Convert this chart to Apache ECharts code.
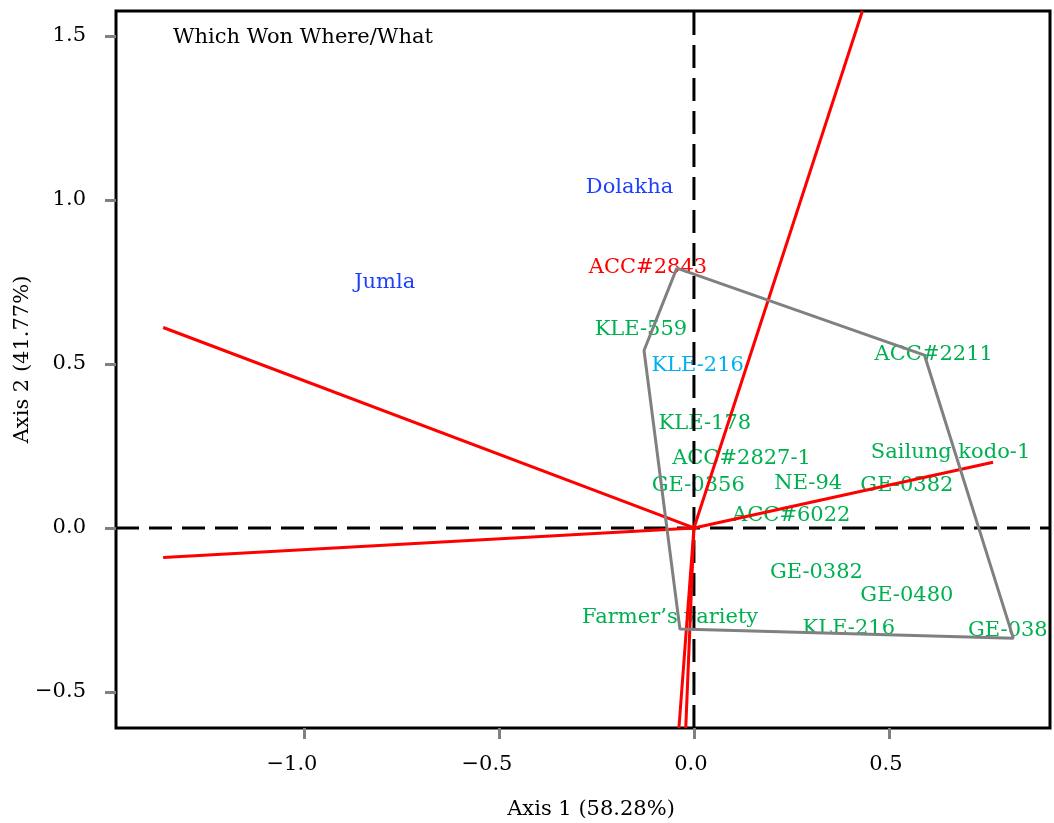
<!DOCTYPE html>
<html>
<head>
<meta charset="utf-8">
<script src="https://cdn.jsdelivr.net/npm/echarts@6/dist/echarts.min.js"></script>
<style>html,body{margin:0;padding:0;background:#fff}#c{width:1054px;height:823px}</style>
</head>
<body>
<div id="c"></div>
<script>
// ---- data ----
const xRange = [-1.482, 0.913];
const yRange = [-0.61, 1.576];
const xTicks = [-1.0, -0.5, 0.0, 0.5];
const yTicks = [-0.5, 0.0, 0.5, 1.0, 1.5];
const xName = 'Axis 1 (58.28%)';
const yName = 'Axis 2 (41.77%)';
const titleText = 'Which Won Where/What';

// rays from the origin (end points)
const rayEnds = [
  [-1.361, 0.611],
  [-1.361, -0.0905],
  [0.432, 1.576],
  [0.767, 0.200],
  [-0.0385, -0.61],
  [-0.021, -0.61]
];

// convex hull of genotypes
const hull = [
  [-0.044, 0.792],
  [0.591, 0.527],
  [0.819, -0.336],
  [-0.036, -0.308],
  [-0.128, 0.541],
  [-0.044, 0.792]
];

// environment labels
const envNames = ['Dolakha', 'Jumla'];
const envPos = [[-0.165, 1.039], [-0.793, 0.748]];

// genotype labels
const genoNames = ['ACC#2843', 'KLE-559', 'KLE-216', 'ACC#2211', 'KLE-178', 'ACC#2827-1',
  'Sailung kodo-1', 'GE-0356', 'NE-94', 'GE-0382', 'ACC#6022', 'GE-0382', 'GE-0480',
  'Farmer\u2019s variety', 'KLE-216', 'GE-038'];
const genoPos = [[-0.118, 0.795], [-0.136, 0.606], [0.0095, 0.495], [0.615, 0.530],
  [0.028, 0.319], [0.122, 0.210], [0.658, 0.231], [0.011, 0.129], [0.293, 0.136],
  [0.546, 0.129], [0.2495, 0.0375], [0.314, -0.135], [0.546, -0.206], [-0.061, -0.272],
  [0.397, -0.308], [0.805, -0.313]];
const genoGroup = ['winner', 'g', 'stable', 'g', 'g', 'g', 'g', 'g', 'g', 'g', 'g', 'g', 'g', 'g', 'g', 'g'];

// ---- styles ----
const FONT = 'DejaVu Serif';
const FS = 21;
const groupColor = { winner: '#ff0000', stable: '#00b0f0', g: '#00b050' };
const envColor = '#1f3fff';

const fmt = v => v.toFixed(1).replace('-', '\u2212');
const fmtX = v => (v < 0 ? '{neg|' : '{pos|') + fmt(v) + '}';

const labelData = [];
envNames.forEach((n, i) => labelData.push({ name: n, value: envPos[i], label: { color: envColor } }));
genoNames.forEach((n, i) => labelData.push({ name: n, value: genoPos[i], label: { color: groupColor[genoGroup[i]] } }));

const series = [];
series.push({
  type: 'scatter', z: 1, data: labelData, symbolSize: 1, silent: true,
  itemStyle: { color: 'rgba(0,0,0,0)', opacity: 1 },
  label: { show: true, position: 'inside', formatter: p => p.name, fontFamily: FONT, fontSize: FS, opacity: 1, textBorderWidth: 0 }
});
// dashed reference lines
series.push({
  type: 'line', z: 3, symbol: 'none', silent: true, data: [[0, yRange[0]], [0, yRange[1]]],
  lineStyle: { color: '#000', width: 3, type: [23, 10] }
});
series.push({
  type: 'line', z: 3, symbol: 'none', silent: true, data: [[xRange[0], 0], [xRange[1], 0]],
  lineStyle: { color: '#000', width: 3, type: [23, 10] }
});
rayEnds.forEach(e => series.push({
  type: 'line', z: 4, symbol: 'none', silent: true, data: [[0, 0], e],
  lineStyle: { color: '#ff0000', width: 3 }
}));
series.push({
  type: 'line', z: 5, symbol: 'none', silent: true, data: hull,
  lineStyle: { color: '#808080', width: 3 }
});

const chart = echarts.init(document.getElementById('c'), null, { renderer: 'canvas' });
chart.setOption({
  animation: false,
  backgroundColor: '#fff',
  title: {
    text: titleText, left: 173, top: 27, padding: 0,
    textStyle: { fontFamily: FONT, fontSize: FS, fontWeight: 'normal', color: '#000' }
  },
  grid: { left: 116, right: 4, top: 11, bottom: 95, outerBoundsMode: 'none', containLabel: false,
    show: true, borderColor: '#000', borderWidth: 3, backgroundColor: 'transparent' },
  xAxis: {
    type: 'value', min: xRange[0], max: xRange[1],
    name: xName, nameLocation: 'middle', nameGap: 71,
    nameTextStyle: { fontFamily: FONT, fontSize: FS, color: '#000', padding: [0, 0, 0, 16] },
    axisLine: { show: false, onZero: false },
    splitLine: { show: false },
    axisTick: { show: true, customValues: xTicks, length: 11, lineStyle: { color: '#808080', width: 3 } },
    axisLabel: {
      customValues: xTicks, formatter: fmtX, margin: 26, fontFamily: FONT, fontSize: FS, color: '#000',
      rich: {
        neg: { fontFamily: FONT, fontSize: FS, color: '#000', padding: [0, 24, 0, 0] },
        pos: { fontFamily: FONT, fontSize: FS, color: '#000', padding: [0, 6, 0, 0] }
      }
    }
  },
  yAxis: {
    type: 'value', min: yRange[0], max: yRange[1],
    name: yName, nameLocation: 'middle', nameGap: 83, nameMoveOverlap: false,
    nameTextStyle: { fontFamily: FONT, fontSize: FS, color: '#000', padding: [0, 0, 0, 20] },
    axisLine: { show: false, onZero: false },
    splitLine: { show: false },
    axisTick: { show: true, customValues: yTicks, length: 11, lineStyle: { color: '#808080', width: 3 } },
    axisLabel: { customValues: yTicks, formatter: fmt, margin: 30, fontFamily: FONT, fontSize: FS, color: '#000' }
  },
  series: series
});
</script>
</body>
</html>
